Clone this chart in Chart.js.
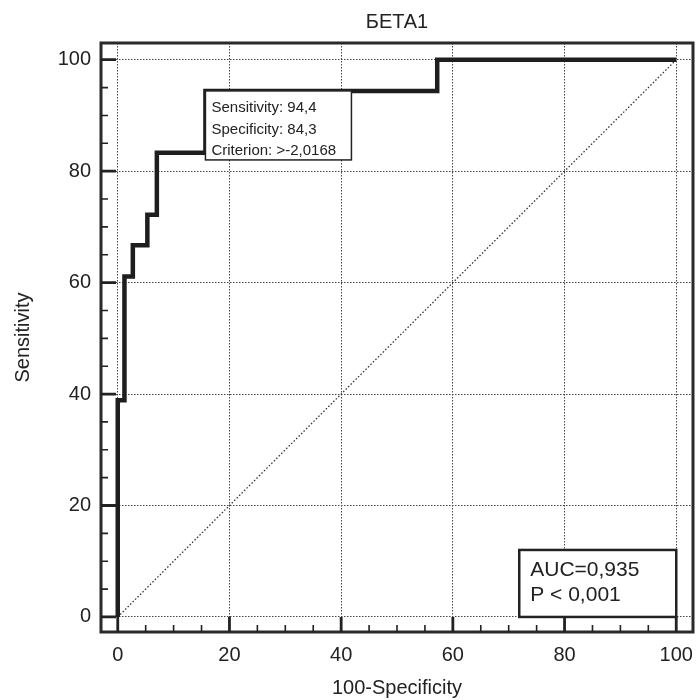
<!DOCTYPE html>
<html>
<head>
<meta charset="utf-8">
<script src="https://cdn.jsdelivr.net/npm/chart.js@4"></script>
<style>
  body { margin: 0; background: #fff; }
  #wrap { width: 697px; height: 700px; }
</style>
</head>
<body>
<div id="wrap"><canvas id="rocChart" width="697" height="700"></canvas></div>
<script>
// ROC curve (100-Specificity, Sensitivity)
const fpr  = [0, 0,    1.2,  2.7,  5.3,  7.0,  15.7, 57.2, 100];
const sens = [0, 38.9, 61.1, 66.7, 72.2, 83.3, 94.4, 100,  100];
const diagX = [0, 100];
const diagY = [0, 100];
const majorTicks = [0, 20, 40, 60, 80, 100];
const criterionPoint = [15.7, 94.4];
const criterionLines = ["Sensitivity: 94,4", "Specificity: 84,3", "Criterion: >-2,0168"];
const aucLines = ["AUC=0,935", "P < 0,001"];

const ink = "#222";
const fontName = "'Liberation Sans', Arial, sans-serif";

const rocPoints = fpr.map((x, i) => ({x: x, y: sens[i]}));
const diagPoints = diagX.map((x, i) => ({x: x, y: diagY[i]}));

// frame, inward ticks and the two text boxes
const decor = {
  id: "decor",
  afterDatasetsDraw(chart) {
    const ctx = chart.ctx;
    const a = chart.chartArea;
    const xs = chart.scales.x, ys = chart.scales.y;
    ctx.save();

    // criterion box
    let bx = xs.getPixelForValue(criterionPoint[0]);
    let by = ys.getPixelForValue(criterionPoint[1]);
    ctx.fillStyle = "#fff";
    ctx.fillRect(bx, by, 146, 69);
    ctx.strokeStyle = ink;
    ctx.lineWidth = 1.5;
    ctx.strokeRect(bx, by, 146, 69);
    ctx.fillStyle = ink;
    ctx.font = "15px " + fontName;
    ctx.textBaseline = "middle";
    criterionLines.forEach((t, i) => ctx.fillText(t, bx + 6, by + 17 + i * 21.5));

    // AUC box, anchored at (100, 0)
    let rx = xs.getPixelForValue(100);
    let ry = ys.getPixelForValue(0);
    ctx.fillStyle = "#fff";
    ctx.fillRect(rx - 157, ry - 67, 157, 67);
    ctx.lineWidth = 2.5;
    ctx.strokeRect(rx - 157, ry - 67, 157, 67);
    ctx.fillStyle = ink;
    ctx.font = "21px " + fontName;
    aucLines.forEach((t, i) => ctx.fillText(t, rx - 146, ry - 47 + i * 25));

    // frame
    ctx.strokeStyle = "#2a2a2a";
    ctx.lineWidth = 3;
    ctx.strokeRect(a.left, a.top, a.right - a.left, a.bottom - a.top);

    // inward ticks on left and bottom
    ctx.strokeStyle = ink;
    for (let v = 0; v <= 100; v += 5) {
      const major = v % 20 === 0;
      const len = major ? 15 : 7;
      ctx.lineWidth = major ? 2.8 : 1.6;
      const px = xs.getPixelForValue(v);
      const py = ys.getPixelForValue(v);
      ctx.beginPath();
      ctx.moveTo(px, a.bottom);
      ctx.lineTo(px, a.bottom - len);
      ctx.moveTo(a.left, py);
      ctx.lineTo(a.left + len, py);
      ctx.stroke();
    }
    ctx.restore();
  }
};

new Chart("rocChart", {
  type: "line",
  data: {
    datasets: [{
      data: rocPoints,
      borderColor: "#1e1e1e",
      borderWidth: 4.5,
      stepped: true,
      pointRadius: 0,
      fill: false,
      clip: false
    }, {
      data: diagPoints,
      borderColor: "#333",
      borderWidth: 1.3,
      borderDash: [1.5, 2],
      pointRadius: 0,
      fill: false
    }]
  },
  options: {
    responsive: false,
    animation: false,
    layout: {padding: {top: 0, right: 4, bottom: 0, left: 0}},
    plugins: {
      legend: {display: false},
      tooltip: {enabled: false},
      title: {
        display: true,
        text: "БЕТА1",
        fullSize: false,
        color: ink,
        font: {family: fontName, size: 20, weight: "normal"},
        padding: {top: 10, bottom: 9}
      }
    },
    scales: {
      x: {
        type: "linear",
        min: -3,
        max: 103,
        afterBuildTicks: s => { s.ticks = majorTicks.map(v => ({value: v})); },
        afterFit: s => { s.height = 68; s.paddingLeft = 0; s.paddingRight = 0; },
        grid: {color: "#444", lineWidth: 1, drawTicks: false},
        border: {display: false, dash: [1.5, 1.5]},
        ticks: {color: ink, padding: 11, maxRotation: 0, font: {family: fontName, size: 20}},
        title: {display: true, text: "100-Specificity", color: ink,
                font: {family: fontName, size: 20}, padding: {top: 9, bottom: 0}}
      },
      y: {
        type: "linear",
        min: -2.7,
        max: 103,
        afterBuildTicks: s => { s.ticks = majorTicks.map(v => ({value: v})); },
        afterFit: s => { s.width = 101; s.paddingTop = 0; s.paddingBottom = 0; },
        grid: {color: "#444", lineWidth: 1, drawTicks: false},
        border: {display: false, dash: [1.5, 1.5]},
        ticks: {color: ink, padding: 10, font: {family: fontName, size: 20}},
        title: {display: true, text: "Sensitivity", color: ink,
                font: {family: fontName, size: 20}, padding: {top: 11, bottom: 0}}
      }
    }
  },
  plugins: [decor]
});
</script>
</body>
</html>
